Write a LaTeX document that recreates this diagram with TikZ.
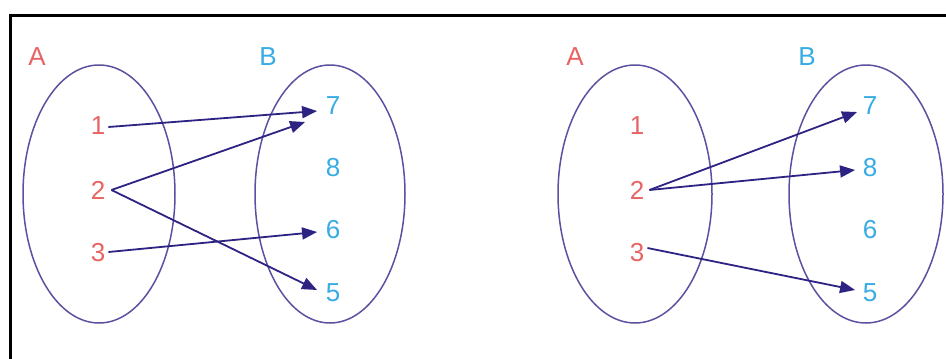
\documentclass[tikz,border=0pt]{standalone}
\usepackage{fontspec}
\setmainfont{Liberation Sans}
\usetikzlibrary{arrows.meta,calc}
\definecolor{setred}{RGB}{232,100,100}
\definecolor{setblue}{RGB}{55,172,228}
\definecolor{ringcol}{RGB}{90,82,160}
\definecolor{arrcol}{RGB}{45,35,130}
\tikzset{
  ring/.style={draw=ringcol, line width=1.5pt},
  elemA/.style={text=setred, inner sep=1pt, font=\fontsize{26}{30}\selectfont},
  elemB/.style={text=setblue, inner sep=1pt, font=\fontsize{26}{30}\selectfont},
  maparrow/.style={draw=arrcol, line width=1.8pt, -{Triangle[length=15pt,width=12pt]}},
}
\begin{document}
\begin{tikzpicture}[x=1pt,y=-1pt]
\useasboundingbox (0,0) rectangle (946,359);
\clip (0,0) rectangle (946,359);
\fill[white] (0,0) rectangle (946,359);
\draw[line width=3pt] (10,15) rectangle (970,380);
% left diagram
\draw[ring] (99,194) ellipse [x radius=76, y radius=129];
\draw[ring] (330,194) ellipse [x radius=75, y radius=129];
\node[elemA] (LA) at (37,57) {A};
\node[elemB] (LB) at (268,57) {B};
\node[elemA] (l1) at (98,126) {1};
\node[elemA] (l2) at (98,190) {2};
\node[elemA] (l3) at (98,253) {3};
\node[elemB] (l7) at (333,106) {7};
\node[elemB] (l8) at (333,168) {8};
\node[elemB] (l6) at (333,230) {6};
\node[elemB] (l5) at (333,293) {5};
\draw[maparrow] ($(l1.east)+(2,1)$) -- ($(l7.west)+(-7.5,5)$);
\draw[maparrow] ($(l2.east)+(5,0)$) -- ($(l7.west)+(-19.5,16)$);
\draw[maparrow] ($(l2.east)+(5,0)$) -- ($(l5.west)+(-7.5,-3)$);
\draw[maparrow] ($(l3.east)+(2,-1)$) -- ($(l6.west)+(-7.5,2)$);
% right diagram
\draw[ring] (635,194) ellipse [x radius=77, y radius=129];
\draw[ring] (866,194) ellipse [x radius=77, y radius=129];
\node[elemA] (RA) at (575,57) {A};
\node[elemB] (RB) at (807,57) {B};
\node[elemA] (r1) at (637,126) {1};
\node[elemA] (r2) at (637,190) {2};
\node[elemA] (r3) at (637,253) {3};
\node[elemB] (r7) at (870,106) {7};
\node[elemB] (r8) at (870,168) {8};
\node[elemB] (r6) at (870,230) {6};
\node[elemB] (r5) at (870,293) {5};
\draw[maparrow] ($(r2.east)+(4,0)$) -- ($(r7.west)+(-4.5,6)$);
\draw[maparrow] ($(r2.east)+(4,0)$) -- ($(r8.west)+(-6.5,2)$);
\draw[maparrow] ($(r3.east)+(2,-5)$) -- ($(r5.west)+(-6.5,-3)$);
\end{tikzpicture}
\end{document}
